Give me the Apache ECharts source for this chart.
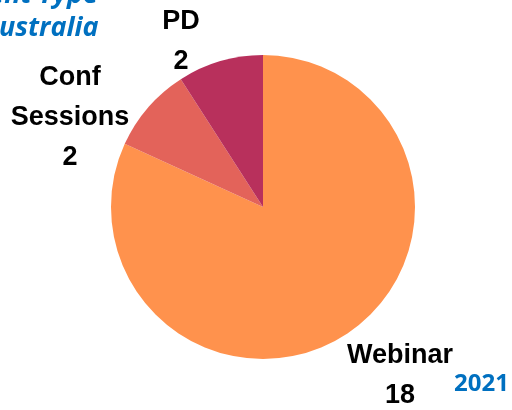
<!DOCTYPE html>
<html>
<head>
<meta charset="utf-8">
<script src="https://cdn.jsdelivr.net/npm/echarts@6/dist/echarts.min.js"></script>
<style>
  html, body { margin: 0; padding: 0; background: #fff; }
  #chart { width: 512px; height: 410px; }
</style>
</head>
<body>
<div id="chart"></div>
<script>
const categories = ['Webinar', 'Conf\nSessions', 'PD']
const values = [18, 2, 2]
const colors = ['#FF924D', '#E3635A', '#B8305C']
// where each label sits (centre of text block)
const labelPos = [[400, 376], [70, 118], [181, 42]]

const chart = echarts.init(document.getElementById('chart'))
chart.setOption({
  animation: false,
  graphic: [
    {
      type: 'text', right: 414, top: -18,
      style: { text: 'Event Type', font: 'italic bold 27px "Open Sans", sans-serif', fill: '#0070C0' }
    },
    {
      type: 'text', left: -18, top: 15,
      style: { text: 'Australia', font: 'italic bold 27px "Open Sans", sans-serif', fill: '#0070C0' }
    },
    {
      type: 'text', left: 454, top: 372,
      style: { text: '2021', font: 'bold 24px "Open Sans", sans-serif', fill: '#0070C0' }
    }
  ],
  series: [{
    type: 'pie',
    center: [263, 207],
    radius: [0, 152],
    startAngle: 90,
    clockwise: true,
    data: categories.map((name, i) => ({ name, value: values[i], itemStyle: { color: colors[i] } })),
    labelLine: { show: false },
    label: {
      position: 'outside',
      formatter: '{b}\n{c}',
      fontFamily: '"Liberation Sans", Arial, sans-serif',
      fontWeight: 'bold',
      fontSize: 27,
      lineHeight: 40,
      color: '#000',
      align: 'center',
      overflow: 'none'
    },
    labelLayout: function (p) {
      const pos = labelPos[p.dataIndex]
      return { x: pos[0], y: pos[1], align: 'center', verticalAlign: 'middle' }
    }
  }]
})
</script>
</body>
</html>
